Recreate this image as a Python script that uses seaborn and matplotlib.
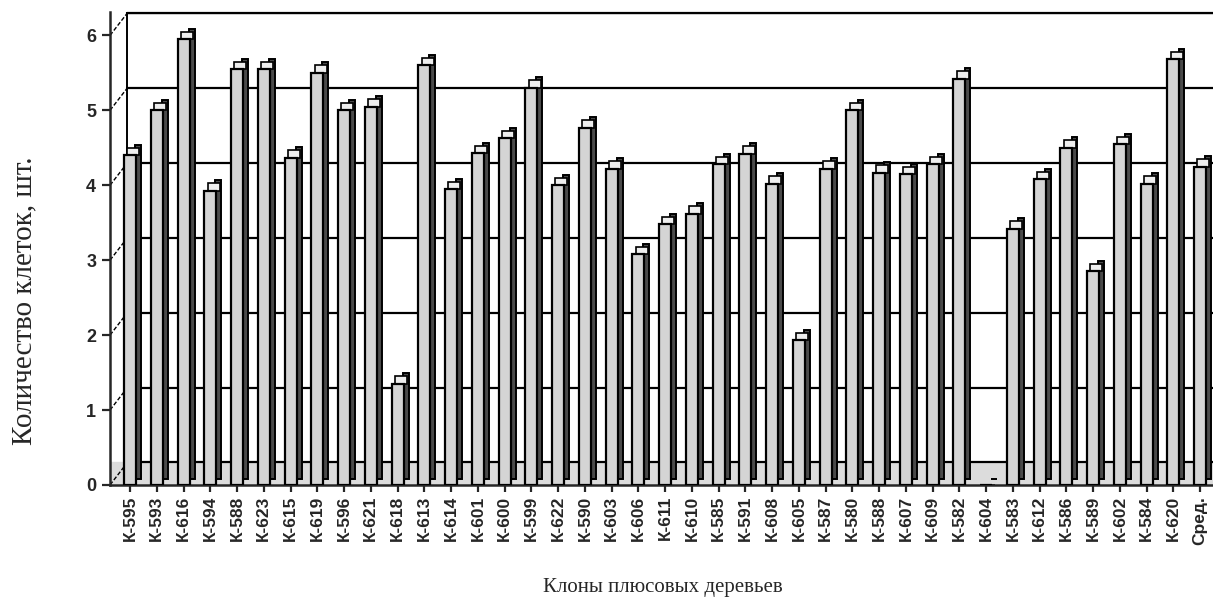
import matplotlib
matplotlib.use("Agg")
import matplotlib.pyplot as plt
import seaborn as sns
import numpy as np
import pandas as pd

clones = ["К-595", "К-593", "К-616", "К-594", "К-588", "К-623", "К-615", "К-619", "К-596", "К-621",
          "К-618", "К-613", "К-614", "К-601", "К-600", "К-599", "К-622", "К-590", "К-603", "К-606",
          "К-611", "К-610", "К-585", "К-591", "К-608", "К-605", "К-587", "К-580", "К-588", "К-607",
          "К-609", "К-582", "К-604", "К-583", "К-612", "К-586", "К-589", "К-602", "К-584", "К-620",
          "Сред."]
cells = [4.4, 5.0, 5.95, 3.93, 5.55, 5.55, 4.37, 5.5, 5.0, 5.05,
         1.35, 5.6, 3.95, 4.43, 4.63, 5.3, 4.0, 4.77, 4.22, 3.08,
         3.48, 3.62, 4.28, 4.42, 4.02, 1.93, 4.22, 5.0, 4.17, 4.15,
         4.28, 5.42, 0.0, 3.42, 4.08, 4.5, 2.85, 4.55, 4.02, 5.68,
         4.25]
y_ticks = [0, 1, 2, 3, 4, 5, 6]

sns.set_style("white")
plt.rcParams["font.family"] = ["Liberation Sans", "DejaVu Sans"]

x = np.arange(len(clones))
vals = np.array(cells)
df = pd.DataFrame({"pos": x, "clone": clones, "cells": cells})

fig = plt.figure(figsize=(12.13, 6.10), dpi=100)
ax = fig.add_axes([0.0907, 0.205, 0.912, 0.775])

xl, xr = -0.75, 40.6
dy = 0.3   # depth offset (back wall)
dx = 0.65

# floor / back wall decoration
ax.fill_between([xl, xr], [0, 0], [dy, dy], color="#dcdcdc", zorder=0)
for t in y_ticks:
    ax.plot([xl + dx, xr], [t + dy, t + dy], color="black", lw=1.6, zorder=1)
    ax.plot([xl, xl + dx], [t, t + dy], color="black", lw=1.0, ls=(0, (3, 1.5)), zorder=1)
ax.plot([xl + dx, xl + dx], [dy, 6 + dy], color="black", lw=1.4, zorder=1)

# side faces (3D depth) of bars
ax.bar(x + 0.3, vals + 0.06 * (vals > 0), width=0.22, bottom=0.08,
       color="#4a4a4a", edgecolor="black", linewidth=1.4, zorder=2)
# top faces
ax.bar(x + 0.12, 0.1 * (vals > 0), bottom=vals, width=0.45,
       color="#eeeeee", edgecolor="black", linewidth=1.2, zorder=2.5)

n_before = len(ax.patches)
sns.barplot(data=df, x="pos", y="cells", color="#d4d4d4", edgecolor="black",
            linewidth=1.6, width=0.45, saturation=1, ax=ax)
for p in ax.patches[n_before:]:
    p.set_zorder(3)

ax.set_xlim(xl, xr)
ax.set_ylim(0, 6 + dy + 0.01)
ax.set_yticks(y_ticks)
ax.set_yticklabels([str(t) for t in y_ticks], fontsize=13, fontweight="bold")
ax.set_xticks(x)
ax.set_xticklabels(clones, rotation=90, fontsize=12.5, fontweight="bold")
ax.tick_params(axis="y", length=6, width=1.6, direction="out", pad=4, left=True)
ax.tick_params(axis="x", length=5, width=1.6, direction="out", pad=3, bottom=True)

for s in ["top", "right"]:
    ax.spines[s].set_visible(False)
ax.spines["left"].set_linewidth(1.8)
ax.spines["bottom"].set_linewidth(1.8)
ax.plot([xl + dx, xr], [6 + dy, 6 + dy], color="black", lw=1.6, zorder=1, clip_on=False)

ax.set_xlabel("Клоны плюсовых деревьев", family=["Liberation Serif", "DejaVu Serif"],
              fontsize=15, labelpad=24)
ax.set_ylabel("Количество клеток, шт.", family=["Liberation Serif", "DejaVu Serif"],
              fontsize=21, va="center")
ax.yaxis.set_label_coords(-0.077, 0.39)

fig.savefig("out.png", dpi=100)
